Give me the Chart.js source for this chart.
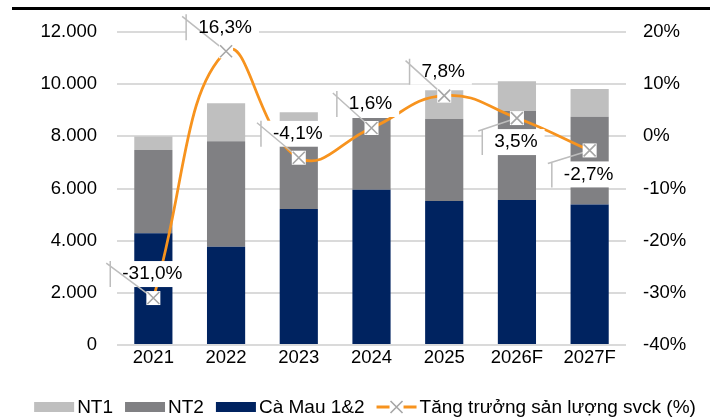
<!DOCTYPE html>
<html>
<head>
<meta charset="utf-8">
<script src="https://cdn.jsdelivr.net/npm/chart.js@4.4.1/dist/chart.umd.min.js"></script>
<style>
  html, body { margin:0; padding:0; background:#fff; }
  #wrap { width:718px; height:419px; position:relative; }
</style>
</head>
<body>
<div id="wrap"><canvas id="c"></canvas></div>
<script>
/* ── Data ── */
const YEARS    = ['2021','2022','2023','2024','2025','2026F','2027F'];
const CA_MAU   = [4280, 3770, 5210, 5950, 5520, 5560, 5390];
const NT2      = [3200, 4040, 3400, 2750, 3140, 3410, 3360];
const NT1      = [ 510, 1460,  310,    0, 1110, 1140, 1060];
const GROWTH   = [-31.0, 16.3, -4.1, 1.6, 7.8, 3.5, -2.7];
const LEFT_TICKS  = [0, 2000, 4000, 6000, 8000, 10000, 12000];
const RIGHT_TICKS = [-40, -30, -20, -10, 0, 10, 20];

/* ── Styles ── */
const C_NT1 = '#BFBFBF', C_NT2 = '#808083', C_CM = '#002360', C_LINE = '#F7931E', C_X = '#A6A6A6';
const FONT = '"Liberation Sans", Arial, sans-serif';
const LABEL_SIDE = ['up','up','up','up','up','down','down'];

function fmtThousands(v) { return String(v).replace(/\B(?=(\d{3})+(?!\d))/g, '.'); }
function fmtPct1(v) { return v.toFixed(1).replace('.', ',') + '%'; }

function drawXMark(g, cx, cy) {
  g.fillStyle = '#fff';
  g.fillRect(cx - 7, cy - 7, 14, 14);
  g.strokeStyle = C_X; g.lineWidth = 1.6;
  g.beginPath();
  g.moveTo(cx - 6, cy - 6); g.lineTo(cx + 6, cy + 6);
  g.moveTo(cx + 6, cy - 6); g.lineTo(cx - 6, cy + 6);
  g.stroke();
}

/* ── Top rule + legend + callout labels ── */
const decor = {
  id:'decor',
  beforeDraw(chart) {
    const ctx = chart.ctx;
    ctx.save();
    ctx.fillStyle = '#000';
    ctx.fillRect(12, 7, 698, 3);
    ctx.restore();
  },
  afterDatasetsDraw(chart) {
    const ctx = chart.ctx;
    const meta = chart.getDatasetMeta(3);
    ctx.save();
    ctx.font = '19px ' + FONT;
    ctx.textBaseline = 'middle';
    meta.data.forEach((pt, i) => {
      const txt = fmtPct1(GROWTH[i]);
      const w = ctx.measureText(txt).width;
      const tx = pt.x - 1 - w / 2;
      const ty = pt.y + (LABEL_SIDE[i] === 'up' ? -24 : 24);
      const L = tx - 12, T = ty - 13, H = 26;
      ctx.fillStyle = '#fff';
      ctx.fillRect(L, T, (tx + w + 7) - L, H);
      ctx.strokeStyle = '#BDBDBD'; ctx.lineWidth = 1.5;
      ctx.beginPath();
      ctx.moveTo(L, T); ctx.lineTo(L, T + H);
      ctx.moveTo(L - 4, T + 2); ctx.lineTo(pt.x, pt.y);
      ctx.stroke();
      drawXMark(ctx, pt.x, pt.y);
      ctx.fillStyle = '#000';
      ctx.fillText(txt, tx, ty);
    });
    ctx.restore();
  },
  afterDraw(chart) {
    const ctx = chart.ctx;
    const items = [
      { label:'NT1', color:C_NT1 },
      { label:'NT2', color:C_NT2 },
      { label:'Cà Mau 1&2', color:C_CM },
      { label:'Tăng trưởng sản lượng svck (%)', line:true },
    ];
    ctx.save();
    ctx.font = '19px ' + FONT;
    ctx.textBaseline = 'middle';
    const boxW = 40, gapTxt = 3, gapItem = 12, cy = 407;
    let total = 0;
    items.forEach((it, i) => { it.w = ctx.measureText(it.label).width; total += boxW + gapTxt + it.w + (i ? gapItem : 0); });
    let x = 365 - total / 2;
    items.forEach(it => {
      if (it.line) {
        ctx.strokeStyle = C_LINE; ctx.lineWidth = 3;
        ctx.beginPath(); ctx.moveTo(x, cy); ctx.lineTo(x + boxW, cy); ctx.stroke();
        drawXMark(ctx, x + boxW / 2, cy);
      } else {
        ctx.fillStyle = it.color;
        ctx.fillRect(x, cy - 5, boxW, 10);
      }
      x += boxW + gapTxt;
      ctx.fillStyle = '#000';
      ctx.fillText(it.label, x, cy + 1);
      x += it.w + gapItem;
    });
    ctx.restore();
  }
};

const tickFont = { family: FONT, size: 18.5 };

new Chart(document.getElementById('c'), {
  data: {
    labels: YEARS,
    datasets: [
      { type:'bar', label:'Cà Mau 1&2', data:CA_MAU, backgroundColor:C_CM, yAxisID:'y', order:1 },
      { type:'bar', label:'NT2', data:NT2, backgroundColor:C_NT2, yAxisID:'y', order:1 },
      { type:'bar', label:'NT1', data:NT1, backgroundColor:C_NT1, yAxisID:'y', order:1 },
      { type:'line', label:'Tăng trưởng sản lượng svck (%)', data:GROWTH, yAxisID:'y2', order:0,
        borderColor:C_LINE, borderWidth:2.75, tension:0.45, pointRadius:0, pointHoverRadius:0, fill:false }
    ]
  },
  options: {
    responsive:true, maintainAspectRatio:false, animation:false,
    layout:{ padding:{ top:32, left:0, right:0, bottom:44 } },
    datasets:{ bar:{ categoryPercentage:1, barPercentage:0.525, stack:'s' } },
    plugins:{ legend:{ display:false }, tooltip:{ enabled:false } },
    scales:{
      x:{ stacked:true, grid:{ display:false, drawTicks:false }, border:{ display:false },
          ticks:{ color:'#000', font:tickFont, padding:2 },
          afterFit(s){ s.height = 30; } },
      y:{ stacked:true, position:'left', min:0, max:12000,
          afterBuildTicks(s){ s.ticks = LEFT_TICKS.map(v => ({ value:v })); },
          grid:{ color:'#DADADA', lineWidth:2, drawTicks:false }, border:{ display:false },
          ticks:{ color:'#000', font:tickFont, padding:20, callback:v => fmtThousands(v) },
          afterFit(s){ s.width = 117; } },
      y2:{ position:'right', min:-40, max:20,
          afterBuildTicks(s){ s.ticks = RIGHT_TICKS.map(v => ({ value:v })); },
          grid:{ display:false, drawTicks:false }, border:{ display:false },
          ticks:{ color:'#000', font:tickFont, padding:17, callback:v => v + '%' },
          afterFit(s){ s.width = 92; } }
    }
  },
  plugins:[decor]
});
</script>
</body>
</html>
